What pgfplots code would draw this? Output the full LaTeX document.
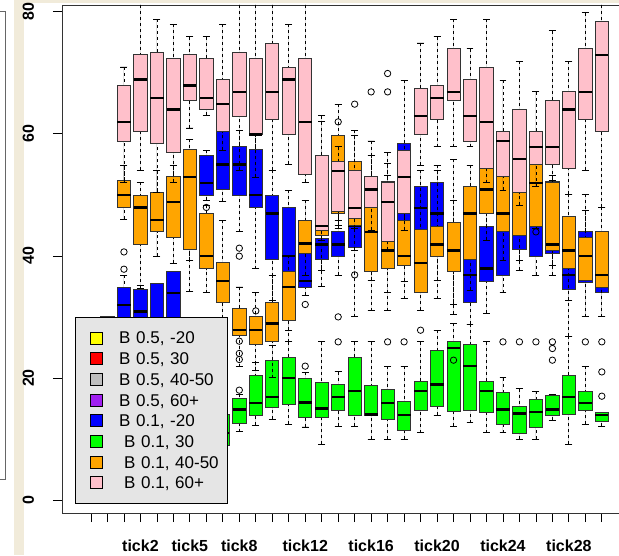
\documentclass[border=0pt]{standalone}
\usepackage{fontspec}
\setmainfont{Liberation Sans}
\usepackage{pgfplots}
\pgfplotsset{compat=1.18}
\usepgfplotslibrary{statistics}
\definecolor{beige}{RGB}{241,235,218}
\definecolor{lgray}{RGB}{229,229,229}
\definecolor{rgreen}{RGB}{0,255,0}
\definecolor{rblue}{RGB}{0,0,255}
\definecolor{rorange}{RGB}{255,165,0}
\definecolor{rpink}{RGB}{255,192,203}
\definecolor{rpurple}{RGB}{160,32,240}
\definecolor{rgrey}{RGB}{190,190,190}
\definecolor{ryellow}{RGB}{255,255,0}
\definecolor{rred}{RGB}{255,0,0}
\pgfplotsset{
  bxs/.style={draw=black!80, line width=0.8pt, mark=o, mark size=3.2pt,
    mark options={solid, draw=black, fill=none, line width=0.8pt},
    boxplot/draw direction=y,
    boxplot/box extend=0.8, boxplot/whisker extend=0.42,
    boxplot/every median/.style={line width=2.6pt, draw=black},
    boxplot/every whisker/.style={draw=black},
    boxplot/draw/lower whisker/.code={%
      \draw[black, line width=0.8pt, dash pattern=on 3pt off 3pt] (boxplot box cs:\pgfplotsboxplotvalue{lower whisker},0.5) -- (boxplot box cs:\pgfplotsboxplotvalue{lower quartile},0.5);
      \draw[black, line width=0.8pt, solid] (boxplot whisker cs:\pgfplotsboxplotvalue{lower whisker},0) -- (boxplot whisker cs:\pgfplotsboxplotvalue{lower whisker},1);
    },
    boxplot/draw/upper whisker/.code={%
      \draw[black, line width=0.8pt, dash pattern=on 3pt off 3pt] (boxplot box cs:\pgfplotsboxplotvalue{upper whisker},0.5) -- (boxplot box cs:\pgfplotsboxplotvalue{upper quartile},0.5);
      \draw[black, line width=0.8pt, solid] (boxplot whisker cs:\pgfplotsboxplotvalue{upper whisker},0) -- (boxplot whisker cs:\pgfplotsboxplotvalue{upper whisker},1);
    },
  },
}
\newcommand{\bx}[7]{\addplot[forget plot, bxs, fill=#1, boxplot prepared={draw position=#2, lower whisker=#3, lower quartile=#4, median=#5, upper quartile=#6, upper whisker=#7}] coordinates {};}
\newcommand{\bxo}[8]{\addplot[forget plot, bxs, fill=#1, boxplot prepared={draw position=#2, lower whisker=#3, lower quartile=#4, median=#5, upper quartile=#6, upper whisker=#7}] table[row sep=\\, y index=0] {v\\ #8};}
\begin{document}
\begin{tikzpicture}
\useasboundingbox (0,0) rectangle (619pt,555pt);
\fill[beige] (14pt,0pt) rectangle (24pt,555pt);
\fill[beige] (14pt,551.5pt) rectangle (619pt,555pt);
\draw[black!60, line width=0.8pt] (-2pt,544pt) rectangle (5pt,76pt);
\begin{axis}[
  at={(62pt,42pt)}, anchor=south west,
  scale only axis, width=569pt, height=508pt,
  xmin=-0.76, xmax=33.77, ymin=-2.1, ymax=81.1,
  axis line style={black!80, line width=0.8pt},
  tick align=outside, xtick pos=bottom, ytick pos=left,
  major tick length=9pt, tick style={black, line width=0.8pt},
  xtick={1,...,32},
  xticklabels={,,,tick2,,,tick5,,,tick8,,,,tick12,,,,tick16,,,,tick20,,,,tick24,,,,tick28,,},
  ytick={0,20,40,60,80},
  /pgf/number format/assume math mode=true,
  ticklabel style={font=\fontsize{16}{16}\selectfont\bfseries},
  xticklabel style={anchor=north, inner sep=0pt, text height=12pt, text depth=0pt},
  xticklabel shift=17pt,
  yticklabel style={xshift=-19pt, rotate=90, anchor=south, inner sep=0pt, text depth=0pt},
  legend image code/.code={\path (-15pt,0pt) (28pt,0pt); \draw[#1] (0pt,-6pt) rectangle (12pt,6pt);},
  legend cell align=left,
  legend style={at={(0.02285,0.3858)}, anchor=north west, fill=lgray, draw=black, line width=0.8pt,
    inner xsep=0pt, inner ysep=11.5pt, row sep=2.7pt, font=\fontsize{17}{17}\selectfont,
    nodes={inner sep=0pt, text height=15pt, text depth=3pt, text width=108pt, align=left}},
]
\addlegendimage{fill=ryellow, draw=black}\addlegendentry{B 0.5, -20}
\addlegendimage{fill=rred, draw=black}\addlegendentry{B 0.5, 30}
\addlegendimage{fill=rgrey, draw=black}\addlegendentry{B 0.5, 40-50}
\addlegendimage{fill=rpurple, draw=black}\addlegendentry{B 0.5, 60+}
\addlegendimage{fill=rblue, draw=black}\addlegendentry{B 0.1, -20}
\addlegendimage{fill=rgreen, draw=black}\addlegendentry{\hspace*{5pt}B 0.1, 30}
\addlegendimage{fill=rorange, draw=black}\addlegendentry{\hspace*{5pt}B 0.1, 40-50}
\addlegendimage{fill=rpink, draw=black}\addlegendentry{\hspace*{5pt}B 0.1, 60+}
% ---- B 0.1, -20 (blue)
\bx{rblue}{1}{16.38}{19.65}{22.93}{26.2}{27.84}
\bx{rblue}{2}{21.3}{24.6}{27.0}{30.13}{30.13}
\bxo{rblue}{3}{24.57}{28.66}{31.94}{34.93}{36.85}{40.66\\ 37.83\\}
\bx{rblue}{4}{24.57}{27.84}{30.95}{34.51}{35.21}
\bx{rblue}{5}{23.7}{27.0}{29.8}{35.49}{35.49}
\bx{rblue}{6}{25.4}{29.48}{33.95}{37.46}{37.46}
\bx{rblue}{7}{39.31}{42.58}{45.86}{49.13}{52.4}
\bxo{rblue}{8}{49.13}{49.95}{51.97}{56.45}{57.32}{47.94\\}
\bx{rblue}{9}{48.97}{50.93}{54.98}{60.38}{60.38}
\bxo{rblue}{10}{43.94}{49.95}{54.98}{57.86}{60.6}{41.27\\ 39.96\\}
\bxo{rblue}{11}{37.94}{47.94}{49.95}{57.44}{59.89}{31.00\\}
\bx{rblue}{12}{32.76}{39.42}{46.95}{49.95}{54.05}
\bx{rblue}{13}{27.84}{33.57}{39.96}{47.94}{50.77}
\bxo{rblue}{14}{33.57}{34.93}{35.87}{41.76}{49.13}{32.05\\}
\bx{rblue}{15}{35.05}{39.42}{41.88}{42.86}{44.22}
\bxo{rblue}{16}{36.85}{39.96}{41.88}{43.94}{45.86}{30.02\\}
\bx{rblue}{17}{30.02}{41.39}{44.92}{45.86}{47.5}
\bx{rblue}{18}{36.03}{39.31}{42.58}{46.68}{49.13}
\bx{rblue}{19}{33.95}{40.12}{46.68}{52.29}{53.2}
\bx{rblue}{20}{35.87}{45.86}{50.77}{58.42}{58.42}
\bx{rblue}{21}{36.03}{40.94}{47.87}{51.31}{54.05}
\bx{rblue}{22}{36.03}{41.76}{46.95}{51.97}{54.05}
\bx{rblue}{23}{30.46}{38.49}{41.76}{44.22}{49.13}
\bx{rblue}{24}{28.82}{32.38}{36.85}{40.94}{42.58}
\bx{rblue}{25}{30.58}{35.87}{37.94}{44.87}{49.13}
\bx{rblue}{26}{33.95}{36.85}{44.5}{45.5}{49.13}
\bx{rblue}{27}{37.67}{41.06}{43.8}{44.5}{47.5}
\bx{rblue}{28}{36.85}{39.96}{45.5}{47.0}{47.5}
\bx{rblue}{29}{36.85}{40.40}{44.22}{52.29}{53.2}
\bx{rblue}{30}{26.86}{34.51}{36.85}{40.94}{44.22}
\bx{rblue}{31}{30.02}{35.70}{39.31}{43.94}{47.5}
\bx{rblue}{32}{30.02}{33.95}{37.67}{40.94}{42.58}
% ---- B 0.1, 30 (green)
\bx{rgreen}{1}{8}{12}{15}{18}{22}
\bx{rgreen}{2}{9}{13}{16}{19}{23}
\bx{rgreen}{3}{10}{14}{17}{20}{24}
\bx{rgreen}{4}{8}{12}{15}{18}{22}
\bx{rgreen}{5}{7}{11}{14}{17}{21}
\bx{rgreen}{6}{8}{11}{14}{17}{22}
\bx{rgreen}{7}{7}{10}{13}{16}{20}
\bx{rgreen}{8}{7}{10}{12}{15}{20}
\bx{rgreen}{9}{7}{9.01}{11.02}{14.04}{17}
\bxo{rgreen}{10}{11.19}{12.56}{14.90}{16.66}{17.36}{26.04\\ 24.03\\ 23.04\\ 18.02\\}
\bx{rgreen}{11}{12.28}{13.92}{15.93}{20.47}{22.6}
\bx{rgreen}{12}{13.27}{15.12}{16.92}{22.93}{25.39}
\bx{rgreen}{13}{12.45}{15.67}{20.03}{23.37}{25.93}
\bxo{rgreen}{14}{12.00}{13.54}{16.00}{19.93}{20.96}{21.95\\}
\bx{rgreen}{15}{9.12}{13.48}{15.02}{19.28}{25.93}
\bxo{rgreen}{16}{12.12}{14.74}{16.92}{18.95}{21.01}{25.93\\}
\bx{rgreen}{17}{12.12}{13.81}{17.90}{23.37}{25.93}
\bx{rgreen}{18}{9.99}{13.81}{14.04}{18.83}{25.93}
\bxo{rgreen}{19}{9.99}{13.22}{15.93}{18.13}{21.95}{25.93\\}
\bxo{rgreen}{20}{9.99}{11.35}{13.92}{16.10}{21.95}{25.93\\}
\bx{rgreen}{21}{11.02}{14.74}{17.85}{19.38}{25.93}
\bx{rgreen}{22}{13.92}{15.28}{18.95}{24.45}{27.84}
\bx{rgreen}{23}{12.12}{14.46}{24.94}{25.93}{28.94}
\bx{rgreen}{24}{12.66}{14.74}{21.95}{25.50}{28.82}
\bx{rgreen}{25}{11.02}{14.30}{17.85}{19.38}{25.93}
\bxo{rgreen}{26}{11.02}{12.40}{14.90}{17.57}{20.03}{25.93\\}
\bxo{rgreen}{27}{9.99}{10.92}{14.20}{15.44}{18.29}{25.93\\}
\bxo{rgreen}{28}{9.99}{11.90}{14.46}{16.49}{17.85}{25.93\\}
\bxo{rgreen}{29}{13.10}{13.81}{14.90}{17.15}{17.36}{25.93\\ 24.84\\ 22.93\\}
\bx{rgreen}{30}{9.12}{14.04}{16.92}{20.36}{26.86}
\bxo{rgreen}{31}{12.40}{14.74}{15.93}{17.85}{21.95}{25.93\\}
\bxo{rgreen}{32}{12.12}{12.94}{13.92}{14.36}{14.41}{25.93\\ 21.01\\ 17.03\\}
% ---- B 0.1, 40-50 (orange)
\bx{rorange}{3}{45.97}{47.94}{49.95}{52.36}{54.87}
\bx{rorange}{4}{34.72}{41.93}{47.94}{49.95}{52.08}
\bx{rorange}{5}{39.96}{43.94}{45.86}{50.39}{54.05}
\bx{rorange}{6}{38.77}{42.96}{48.85}{52.95}{54.87}
\bx{rorange}{7}{34.12}{41.06}{52.95}{57.44}{59.12}
\bx{rorange}{8}{33.95}{37.94}{39.96}{46.95}{48.3}
\bx{rorange}{9}{25.93}{32.38}{35.87}{38.87}{45.86}
\bx{rorange}{10}{21.83}{26.91}{27.84}{31.40}{34.93}
\bx{rorange}{11}{21.29}{25.50}{27.84}{30.02}{33.95}
\bx{rorange}{12}{20.03}{25.93}{28.94}{32.38}{36.85}
\bx{rorange}{13}{25.93}{29.37}{34.93}{37.39}{40.1}
\bx{rorange}{14}{36.85}{40.40}{42.04}{45.86}{49.13}
\bx{rorange}{15}{37.67}{43.40}{46.68}{54.05}{61.96}
\bx{rorange}{16}{44.55}{46.95}{52.4}{59.78}{64.86}
\bxo{rorange}{17}{40.94}{45.0}{49.13}{55.41}{60.6}{36.90\\}
\bx{rorange}{18}{31.00}{37.51}{43.94}{47.94}{56.50}
\bx{rorange}{19}{31.00}{37.94}{40.94}{42.42}{55.14}
\bx{rorange}{20}{32.97}{38.37}{39.96}{45.86}{49.13}
\bxo{rorange}{21}{31.1}{33.95}{38.87}{44.33}{54.05}{27.84\\}
\bx{rorange}{22}{33.03}{39.96}{41.88}{44.87}{54.87}
\bxo{rorange}{23}{32.05}{37.51}{40.94}{45.48}{55.85}{22.93\\}
\bx{rorange}{24}{34.39}{39.42}{46.95}{51.31}{54.87}
\bx{rorange}{25}{42.58}{46.95}{50.93}{54.33}{56.5}
\bx{rorange}{26}{39.31}{43.94}{46.95}{52.95}{54.87}
\bx{rorange}{27}{39.31}{43.40}{51.2}{52.0}{54.05}
\bxo{rorange}{28}{44.55}{44.92}{51.97}{54.98}{55.7}{43.94\\}
\bx{rorange}{29}{38.49}{40.83}{41.88}{51.97}{53.2}
\bx{rorange}{30}{32.76}{37.94}{40.94}{46.40}{50.07}
\bx{rorange}{31}{30.02}{36.03}{39.96}{42.96}{50.1}
\bx{rorange}{32}{30.02}{34.84}{36.90}{43.94}{47.99}
% ---- B 0.1, 60+ (pink)
\bx{rpink}{3}{52.03}{58.84}{61.96}{67.85}{70.96}
\bx{rpink}{4}{54.00}{60.38}{68.90}{73.00}{82}
\bx{rpink}{5}{50.4}{58.42}{65.89}{73.37}{78.77}
\bx{rpink}{6}{52.03}{56.88}{63.99}{72.39}{77.91}
\bx{rpink}{7}{60.97}{65.51}{67.92}{73.00}{75.88}
\bx{rpink}{8}{63.05}{63.99}{65.89}{72.39}{75.88}
\bx{rpink}{9}{57.3}{60.38}{64.90}{68.90}{77.91}
\bx{rpink}{10}{54.05}{62.89}{66.87}{73.37}{82}
\bx{rpink}{11}{52.9}{59.89}{59.89}{72.39}{82}
\bx{rpink}{12}{54.00}{62.40}{66.87}{74.89}{82}
\bx{rpink}{13}{54.98}{59.89}{68.90}{70.96}{77.91}
\bx{rpink}{14}{52.03}{53.39}{61.96}{72.39}{82}
\bx{rpink}{15}{42.58}{44.22}{44.92}{56.45}{62.94}
\bxo{rpink}{16}{45.0}{47.22}{53.93}{55.41}{57.86}{61.96\\}
\bxo{rpink}{17}{44.55}{46.13}{47.87}{53.93}{59.78}{64.86\\}
\bxo{rpink}{18}{44.2}{47.94}{50.93}{52.95}{58.84}{66.87\\}
\bxo{rpink}{19}{40.94}{42.42}{48.85}{51.97}{56.88}{69.88\\ 66.87\\}
\bx{rpink}{20}{44.2}{46.95}{52.95}{57.32}{68.79}
\bx{rpink}{21}{54.87}{59.89}{62.94}{67.43}{74.89}
\bx{rpink}{22}{57.86}{62.40}{65.89}{67.85}{75.88}
\bx{rpink}{23}{57.86}{65.51}{66.87}{73.91}{78.77}
\bx{rpink}{24}{57.86}{58.84}{62.94}{68.90}{73.91}
\bx{rpink}{25}{51.97}{54.33}{61.96}{70.96}{78.77}
\bx{rpink}{26}{50.77}{52.95}{58.84}{60.38}{68.79}
\bx{rpink}{27}{48.3}{50.39}{55.85}{63.99}{71.90}
\bx{rpink}{28}{51.31}{54.98}{57.86}{60.38}{66.87}
\bx{rpink}{29}{52.4}{54.98}{57.86}{65.51}{76.86}
\bx{rpink}{30}{50.07}{54.33}{63.99}{66.87}{71.90}
\bx{rpink}{31}{54.05}{62.40}{66.87}{73.91}{79.87}
\bx{rpink}{32}{47.99}{60.38}{72.93}{78.40}{82}
\end{axis}
\end{tikzpicture}
\end{document}
